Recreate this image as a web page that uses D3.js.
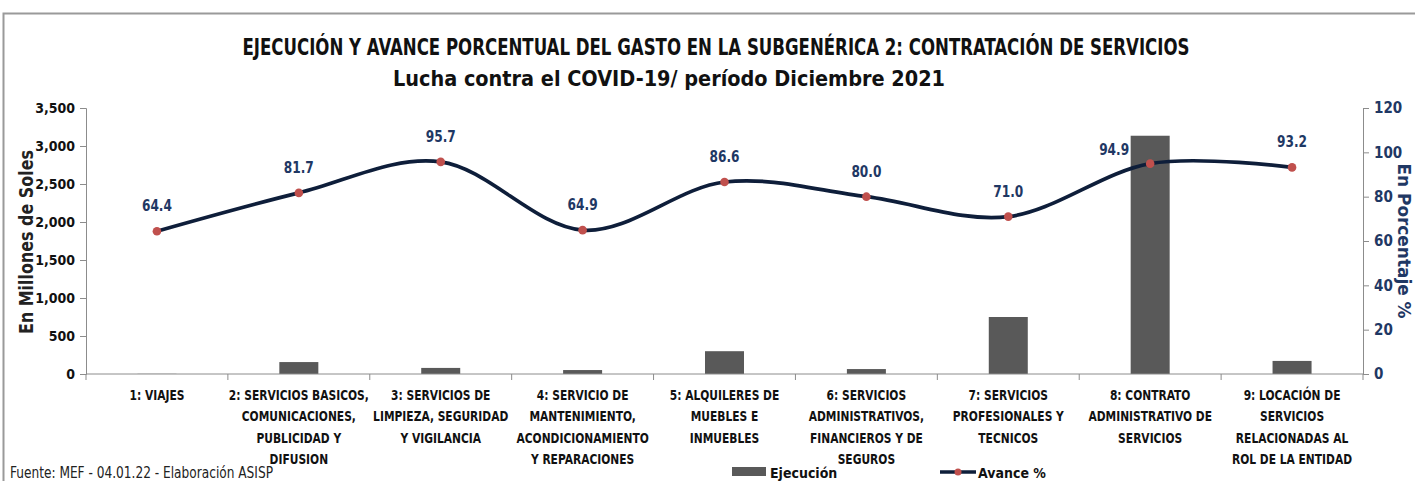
<!DOCTYPE html>
<html><head><meta charset="utf-8">
<script src="https://cdn.jsdelivr.net/npm/d3@7"></script>
<style>
html,body{margin:0;padding:0;background:#fff;}
svg{display:block;}
text{font-family:"DejaVu Sans Condensed","Liberation Sans Narrow",sans-serif;}
</style></head>
<body>
<svg id="chart" width="1415" height="481"></svg>
<script>
const categories = [
  ["1: VIAJES"],
  ["2: SERVICIOS BASICOS,","COMUNICACIONES,","PUBLICIDAD Y","DIFUSION"],
  ["3: SERVICIOS DE","LIMPIEZA, SEGURIDAD","Y VIGILANCIA"],
  ["4: SERVICIO DE","MANTENIMIENTO,","ACONDICIONAMIENTO","Y REPARACIONES"],
  ["5: ALQUILERES DE","MUEBLES E","INMUEBLES"],
  ["6: SERVICIOS","ADMINISTRATIVOS,","FINANCIEROS Y DE","SEGUROS"],
  ["7: SERVICIOS","PROFESIONALES Y","TECNICOS"],
  ["8: CONTRATO","ADMINISTRATIVO DE","SERVICIOS"],
  ["9: LOCACIÓN DE","SERVICIOS","RELACIONADAS AL","ROL DE LA ENTIDAD"]
];
const ejecucion = [2, 157, 80, 52, 300, 65, 750, 3135, 172];
const avance = [64.4, 81.7, 95.7, 64.9, 86.6, 80.0, 71.0, 94.9, 93.2];
const leftTicks = [0, 500, 1000, 1500, 2000, 2500, 3000, 3500];
const rightTicks = [0, 20, 40, 60, 80, 100, 120];
const titleText = "EJECUCIÓN Y AVANCE PORCENTUAL  DEL GASTO EN LA SUBGENÉRICA 2: CONTRATACIÓN DE SERVICIOS";
const subtitleText = "Lucha contra el COVID-19/ período Diciembre 2021";
const sourceText = "Fuente: MEF - 04.01.22 - Elaboración ASISP";
const legendLabels = ["Ejecución", "Avance %"];

const svg = d3.select("#chart");
const W = 1415, H = 481;
const m = {left: 86, right: 1363, top: 108, bottom: 374};
const navy = "#1F3864", lineCol = "#0E1E3A", red = "#C0504D", barCol = "#595959", axisCol = "#8c8c8c";

// frame
svg.append("rect").attr("x", 3.5).attr("y", 13.5).attr("width", W + 10).attr("height", H + 10)
  .attr("fill", "none").attr("stroke", "#9a9a9a").attr("stroke-width", 2);

const x = d3.scaleBand().domain(d3.range(categories.length)).range([m.left, m.right]).paddingInner(0).paddingOuter(0);
const y = d3.scaleLinear().domain([0, 3500]).range([m.bottom, m.top]);
const y2 = d3.scaleLinear().domain([0, 120]).range([m.bottom, m.top]);

// titles
svg.append("text").attr("x", 716).attr("y", 55).attr("text-anchor", "middle")
  .attr("font-size", 23).attr("font-weight", "bold").attr("fill", "#111")
  .attr("textLength", 947).attr("lengthAdjust", "spacingAndGlyphs").text(titleText);
svg.append("text").attr("x", 669).attr("y", 86).attr("text-anchor", "middle")
  .attr("font-size", 20.5).attr("font-weight", "bold").attr("fill", "#111")
  .attr("textLength", 552).attr("lengthAdjust", "spacingAndGlyphs").text(subtitleText);

// bars
const bw = 39;
svg.append("g").selectAll("rect").data(ejecucion).join("rect")
  .attr("x", (d, i) => x(i) + x.bandwidth() / 2 - bw / 2)
  .attr("y", d => y(d)).attr("width", bw).attr("height", d => m.bottom - y(d))
  .attr("fill", barCol);

// left axis
const gl = svg.append("g").attr("transform", `translate(${m.left},0)`)
  .call(d3.axisLeft(y).tickValues(leftTicks).tickFormat(d3.format(",")).tickSize(6).tickPadding(5));
gl.selectAll("path, line").attr("stroke", axisCol);
gl.selectAll("text").attr("font-size", 14).attr("font-weight", "bold").attr("fill", "#111")
  .style("font-family", '"DejaVu Sans Condensed",sans-serif');

// right axis
const gr = svg.append("g").attr("transform", `translate(${m.right},0)`)
  .call(d3.axisRight(y2).tickValues(rightTicks).tickSize(6).tickPadding(5));
gr.selectAll("path, line").attr("stroke", axisCol);
gr.selectAll("text").attr("font-size", 15).attr("font-weight", "bold").attr("fill", navy)
  .style("font-family", '"DejaVu Sans Condensed",sans-serif');

// x axis line + ticks at band boundaries
const gx = svg.append("g");
gx.append("line").attr("x1", m.left).attr("x2", m.right).attr("y1", m.bottom).attr("y2", m.bottom).attr("stroke", axisCol);
gx.selectAll("line.tk").data(d3.range(categories.length + 1)).join("line").attr("class", "tk")
  .attr("x1", i => m.left + i * x.bandwidth()).attr("x2", i => m.left + i * x.bandwidth())
  .attr("y1", m.bottom).attr("y2", m.bottom + 6).attr("stroke", axisCol);

// category labels (horizontally condensed to mimic a narrow font)
categories.forEach((lines, i) => {
  const g = gx.append("g").attr("transform", `translate(${x(i) + x.bandwidth() / 2},0) scale(0.82,1)`);
  const t = g.append("text").attr("text-anchor", "middle").attr("font-size", 14.5).attr("font-weight", "bold").attr("fill", "#111");
  lines.forEach((ln, k) => {
    t.append("tspan").attr("x", 0).attr("y", 400 + k * 21.3).text(ln);
  });
});

// axis titles
svg.append("text").attr("transform", `translate(33,${(m.top + m.bottom) / 2 + 1}) rotate(-90)`)
  .attr("text-anchor", "middle").attr("font-size", 20).attr("font-weight", "bold").attr("fill", "#222")
  .attr("textLength", 184).attr("lengthAdjust", "spacingAndGlyphs")
  .style("font-family", '"DejaVu Sans",sans-serif').text("En Millones de Soles");
svg.append("text").attr("transform", `translate(1398,${(m.top + m.bottom) / 2}) rotate(90)`)
  .attr("text-anchor", "middle").attr("font-size", 17).attr("font-weight", "bold").attr("fill", navy)
  .attr("textLength", 155).attr("lengthAdjust", "spacingAndGlyphs")
  .style("font-family", '"DejaVu Sans",sans-serif').text("En Porcentaje %");

// line
const cx = i => x(i) + x.bandwidth() / 2;
const line = d3.line().x((d, i) => cx(i)).y(d => y2(d)).curve(d3.curveCardinal.tension(0));
svg.append("path").datum(avance).attr("d", line).attr("fill", "none")
  .attr("stroke", lineCol).attr("stroke-width", 3.7);
svg.append("g").selectAll("circle").data(avance).join("circle")
  .attr("cx", (d, i) => cx(i)).attr("cy", d => y2(d)).attr("r", 4.3).attr("fill", red);

// data labels
svg.append("g").selectAll("text").data(avance).join("text")
  .attr("x", (d, i) => cx(i) + (i === 7 ? -36 : 0))
  .attr("y", (d, i) => y2(d) - (i === 7 ? 9 : 20))
  .attr("text-anchor", "middle").attr("font-size", 16).attr("font-weight", "bold").attr("fill", navy)
  .attr("textLength", 30).attr("lengthAdjust", "spacingAndGlyphs")
  .text(d => d3.format(".1f")(d));

// legend
const lg = svg.append("g");
lg.append("rect").attr("x", 732).attr("y", 467).attr("width", 34).attr("height", 9).attr("fill", barCol);
lg.append("text").attr("x", 770).attr("y", 478).attr("font-size", 14).attr("font-weight", "bold").attr("fill", "#111").text(legendLabels[0]);
lg.append("line").attr("x1", 940).attr("x2", 976).attr("y1", 472).attr("y2", 472).attr("stroke", lineCol).attr("stroke-width", 3.5);
lg.append("circle").attr("cx", 958).attr("cy", 472).attr("r", 3.5).attr("fill", red);
lg.append("text").attr("x", 978).attr("y", 478).attr("font-size", 14).attr("font-weight", "bold").attr("fill", "#111").text(legendLabels[1]);

// source
svg.append("text").attr("x", 10).attr("y", 478).attr("font-size", 15).attr("fill", "#222")
  .attr("textLength", 263).attr("lengthAdjust", "spacingAndGlyphs").text(sourceText);
</script>
</body></html>
